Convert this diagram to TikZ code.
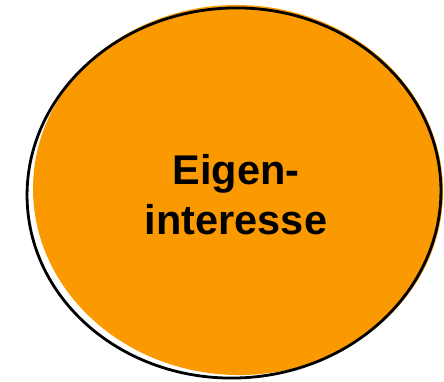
\documentclass[tikz,border=0pt]{standalone}
\usepackage{fontspec}
\setmainfont{Liberation Sans}
\definecolor{eigenorange}{RGB}{250,153,0}
\begin{document}
\begin{tikzpicture}[
    x=1pt, y=-1pt,
    blobfill/.style={fill=eigenorange, draw=none},
    blobline/.style={draw=black, line width=2.8pt},
    lbl/.style={align=center, font=\fontsize{41.5}{50}\selectfont\bfseries, inner sep=0pt}
]
\useasboundingbox (0,0) rectangle (444,381);
% orange fill
\fill[blobfill, rotate around={-2:(238,190)}] (238,190) ellipse [x radius=205, y radius=185];
% hand drawn outline
\draw[blobline, rotate around={3:(234,193)}] (234,193) ellipse [x radius=207, y radius=185];
\node[lbl] (self) at (236,195) {Eigen-\\interesse};
\end{tikzpicture}
\end{document}
